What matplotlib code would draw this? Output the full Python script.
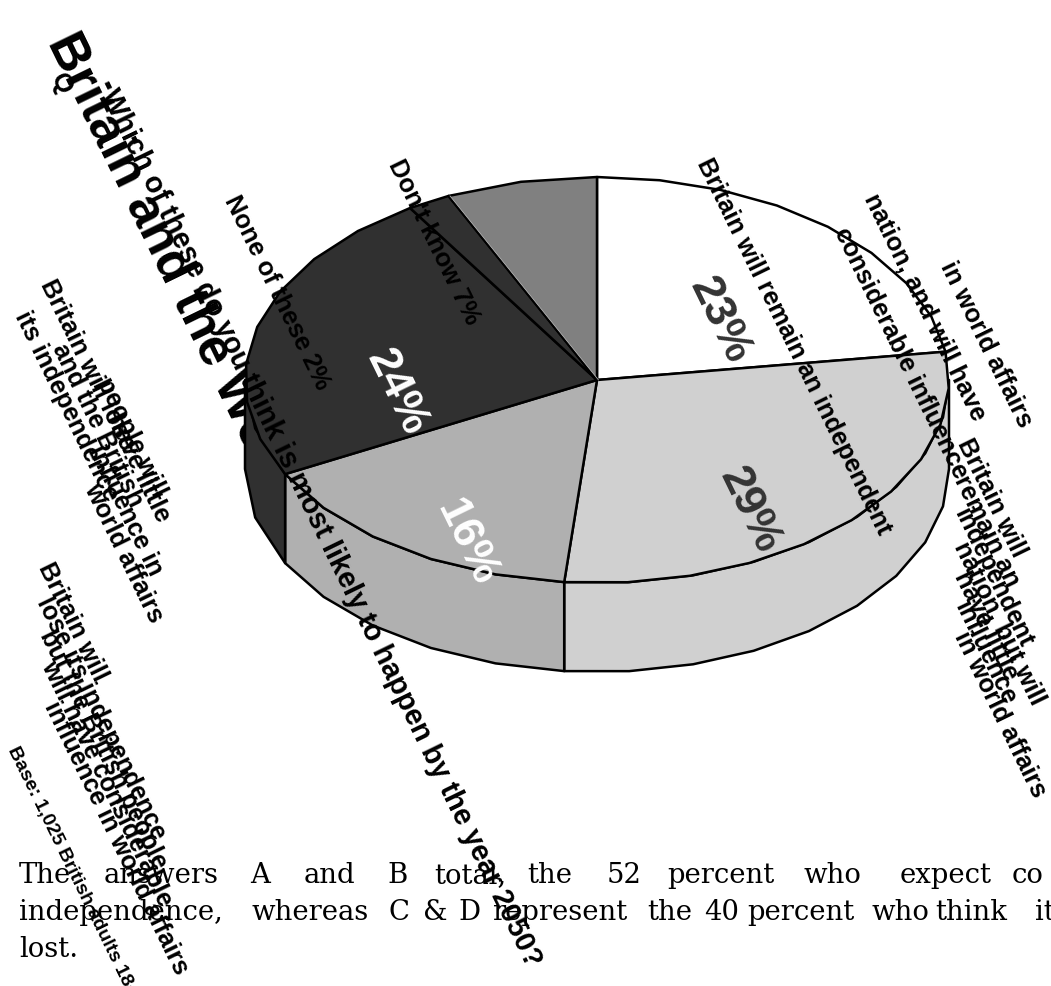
"""Britain and the World: 3D pie of survey answers with slanted labels."""

import matplotlib

matplotlib.use("Agg")
import matplotlib.pyplot as plt
import numpy as np
from matplotlib.patches import Polygon

WIDTH, HEIGHT = 1051, 986

# survey answers, clockwise from twelve o'clock
shares = [23, 29, 16, 24, 2, 7]
share_labels = ["23%", "29%", "16%", "24%", "", ""]
face_colors = ["#ffffff", "#d0d0d0", "#b0b0b0", "#303030", "#303030", "#808080"]
label_colors = ["#333333", "#333333", "#ffffff", "#ffffff"]

title = "Britain and the World"
question = "Which of these do you think is most likely to happen by the year 2050?"
dont_know = "Don't know 7%"
none_of_these = "None of these 2%"
answer_a = ["Britain will remain an independent", "nation, and will have", "considerable influence", "in world affairs"]
answer_b = ["Britain will", "remain an", "independent", "nation, but will", "have little", "influence", "in world affairs"]
answer_c = ["Britain will", "lose its independence", "but the British people", "will have considerable", "influence in world affairs"]
answer_d = ["Britain will lose", "its independence", "and the British", "people will", "have little", "influence in", "world affairs"]
base_note = "Base: 1,025 British adults 18+"
body_first = ["The", "answers", "A", "and", "B", "total,", "the", "52", "percent", "who", "expect", "co"]
body_second = ["independence,", "whereas", "C", "&", "D", "represent", "the", "40", "percent", "who", "think", "it"]
body_third = ["lost."]

CX, CY = 597, 380
RX, RY = 352, 203
DEPTH = 89
SLANT = -64
SANS = "Liberation Sans"
SERIF = "DejaVu Serif"


def arc(start, stop, drop=0.0):
    # clockwise degrees from the top of the ellipse
    steps = max(int(abs(stop - start) / 10), 1) + 1
    t = np.radians(np.linspace(start, stop, steps))
    return np.column_stack([CX + RX * np.sin(t), CY - RY * np.cos(t) + drop])


def slanted(ax, x, y, text, size, **kw):
    kw.setdefault("family", SANS)
    kw.setdefault("color", "black")
    kw.setdefault("fontweight", "bold")
    ax.text(x, y, text, fontsize=size * 0.72, rotation=SLANT, rotation_mode="anchor",
            ha="left", va="baseline", zorder=kw.pop("zorder", 5), **kw)


fig = plt.figure(figsize=(WIDTH / 100, HEIGHT / 100), dpi=100)
ax = fig.add_axes([0, 0, 1, 1])
ax.set_xlim(0, WIDTH)
ax.set_ylim(HEIGHT, 0)
ax.axis("off")

edges = np.cumsum([0] + shares) / sum(shares) * 360

# side wall, only the half facing the viewer
for i, color in enumerate(face_colors):
    lo, hi = max(edges[i], 90), min(edges[i + 1], 270)
    if lo >= hi:
        continue
    wall = np.vstack([arc(lo, hi), arc(hi, lo, DEPTH)])
    ax.add_patch(Polygon(wall, closed=True, facecolor=color, edgecolor="black", linewidth=1.8,
                         joinstyle="round", zorder=2))

# top surface
for i, color in enumerate(face_colors):
    wedge = np.vstack([[CX, CY], arc(edges[i], edges[i + 1])])
    ax.add_patch(Polygon(wedge, closed=True, facecolor=color, edgecolor="black", linewidth=1.8,
                         joinstyle="round", zorder=3))

# pale hairline along the edge of the last wedge
rim = arc(edges[5], edges[5])[0]
ax.plot([CX + 1.5, rim[0] + 1.5], [CY, rim[1]], color="#c8c8c8", linewidth=0.5, zorder=3.5)

# percentages inside the wedges
label_xy = [(720, 320), (750, 510), (466, 542), (397, 392)]
for (x, y), text, color in zip(label_xy, share_labels, label_colors):
    ax.text(x, y, text, fontsize=45 * 0.72, fontweight="bold", family=SANS, color=color,
            rotation=SLANT, rotation_mode="anchor", ha="center", va="center", zorder=4)

# the title runs underneath the pie
slanted(ax, 47, 42, title, 52, zorder=1)
slanted(ax, 50, 78, "Q", 26)
slanted(ax, 100, 94, question, 29)

slanted(ax, 388, 164, dont_know, 25.5)
slanted(ax, 224, 200, none_of_these, 25.5)


def stacked(lines, starts, size=25.5):
    for (x, y), line in zip(starts, lines):
        slanted(ax, x, y, line, size)


stacked(answer_a, [(696, 163), (864, 198), (834, 232), (940, 266)])
stacked(answer_b, [(957, 443), (954, 480), (954, 513), (954, 546), (954, 576), (954, 606), (954, 636)])
stacked(answer_c, [(38, 567), (36, 602), (39, 635), (41, 665), (44, 706)])
stacked(answer_d, [(40, 284), (14, 316), (52, 348), (96, 382), (106, 418), (88, 450), (84, 488)])
slanted(ax, 8, 750, base_note, 19.5)

# justified body copy, set word by word
body_lines = [body_first, body_second, body_third]
body_x = [
    [19, 104, 250, 304, 387, 434, 527, 607, 667, 804, 900, 1012],
    [19, 251, 388, 423, 458, 492, 647, 704, 747, 871, 935, 1035],
    [19],
]
body_y = [883, 920, 957]
for words, xs, y in zip(body_lines, body_x, body_y):
    for x, word in zip(xs, words):
        ax.text(x, y, word, fontsize=27.5 * 0.72, family=SERIF, ha="left", va="baseline", zorder=6)

fig.savefig("out.png", dpi=100, facecolor="white")
